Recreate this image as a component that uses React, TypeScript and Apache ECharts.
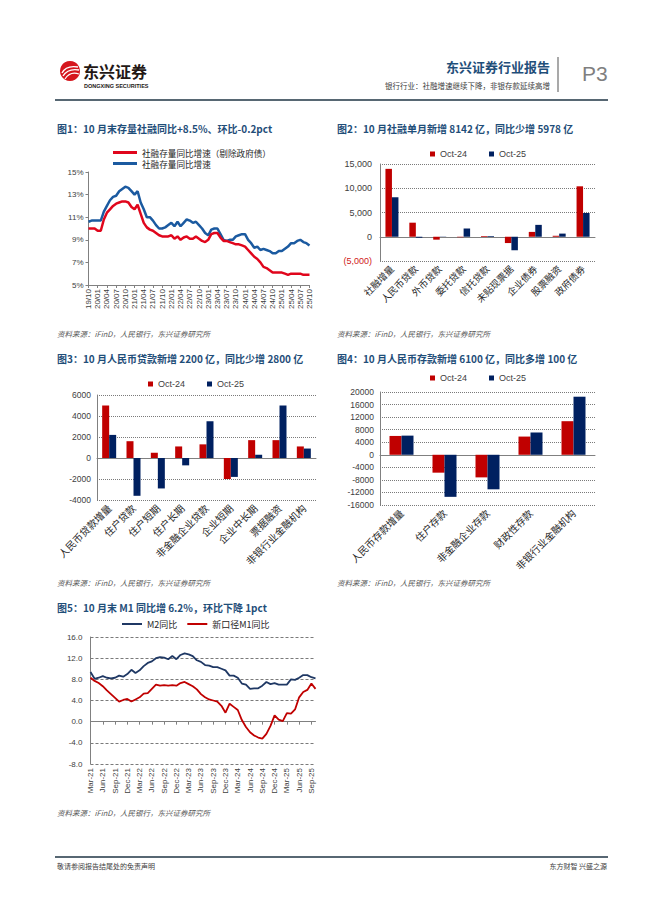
import React, { useEffect, useRef } from "react";
import * as echarts from "echarts";

const FONT = '"Liberation Sans", "Noto Sans CJK SC", sans-serif';
const CJK = '"Noto Sans CJK SC", "Liberation Sans", sans-serif';

// ---------- Chart 1 ----------
const c1Dates = [
  "19/10", "19/11", "19/12",
  "20/01", "20/02", "20/03", "20/04", "20/05", "20/06", "20/07", "20/08", "20/09", "20/10", "20/11", "20/12",
  "21/01", "21/02", "21/03", "21/04", "21/05", "21/06", "21/07", "21/08", "21/09", "21/10", "21/11", "21/12",
  "22/01", "22/02", "22/03", "22/04", "22/05", "22/06", "22/07", "22/08", "22/09", "22/10", "22/11", "22/12",
  "23/01", "23/02", "23/03", "23/04", "23/05", "23/06", "23/07", "23/08", "23/09", "23/10", "23/11", "23/12",
  "24/01", "24/02", "24/03", "24/04", "24/05", "24/06", "24/07", "24/08", "24/09", "24/10", "24/11", "24/12",
  "25/01", "25/02", "25/03", "25/04", "25/05", "25/06", "25/07", "25/08", "25/09", "25/10",
];
const c1ExGov = [
  10.0, 10.0, 10.0,
  9.8, 9.8, 10.8, 11.4, 11.7, 12.0, 12.2, 12.3, 12.4, 12.4, 12.3, 11.9,
  11.7, 12.1, 11.3, 10.5, 10.1, 9.9, 9.8, 9.6, 9.4, 9.3, 9.3, 9.3,
  9.4, 9.1, 9.3, 9.0, 9.2, 9.3, 9.1, 9.1, 9.3, 9.1, 8.9, 8.8,
  9.0, 9.5, 9.6, 9.6, 9.2, 8.9, 8.9, 8.8, 8.7, 8.6, 8.6, 8.5,
  8.4, 8.1, 7.8, 7.5, 7.3, 7.0, 6.6, 6.5, 6.3, 6.1, 6.1, 6.1,
  6.1, 6.0, 5.9, 6.0, 6.0, 6.0, 6.0, 5.9, 5.9, 5.9,
];
const c1Total = [
  10.6, 10.7, 10.7,
  10.7, 10.7, 11.5, 12.0, 12.5, 12.8, 12.9, 13.3, 13.5, 13.7, 13.6, 13.3,
  13.0, 13.3, 12.3, 11.7, 11.0, 11.0, 10.7, 10.3, 10.0, 10.0, 10.1, 10.3,
  10.5, 10.2, 10.6, 10.2, 10.5, 10.8, 10.7, 10.5, 10.6, 10.3, 10.0, 9.6,
  9.4, 9.9, 10.0, 10.0, 9.5, 9.0, 8.9, 9.0, 9.0, 9.3, 9.4, 9.5,
  9.5, 9.0, 8.7, 8.3, 8.4, 8.1, 8.2, 8.1, 8.0, 7.8, 7.8, 8.0,
  8.0, 8.2, 8.4, 8.7, 8.7, 8.9, 9.0, 8.8, 8.7, 8.5,
];
const c1Names = ["社融存量同比增速（剔除政府债）", "社融存量同比增速"];

// ---------- Chart 2 ----------
const c2Cats = ["社融增量", "人民币贷款", "外币贷款", "委托贷款", "信托贷款", "未贴现票据", "企业债券", "股票融资", "政府债券"];
const c2Oct24 = [14000, 2900, -600, -100, 150, -1300, 1000, 200, 10400];
const c2Oct25 = [8142, -200, -50, 1700, 150, -2800, 2450, 650, 4900];

// ---------- Chart 3 ----------
const c3Cats = ["人民币贷款增量", "住户贷款", "住户短期", "住户长期", "非金融企业贷款", "企业短期", "企业中长期", "票据融资", "非银行业金融机构"];
const c3Oct24 = [5000, 1600, 500, 1100, 1300, -2000, 1700, 1700, 1100];
const c3Oct25 = [2200, -3600, -2900, -700, 3500, -1800, 300, 5000, 900];

// ---------- Chart 4 ----------
const c4Cats = ["人民币存款增量", "住户存款", "非金融企业存款", "财政性存款", "非银行业金融机构"];
const c4Oct24 = [6000, -5700, -7200, 5800, 10700];
const c4Oct25 = [6100, -13400, -11000, 7100, 18500];

const barNames = ["Oct-24", "Oct-25"];

// ---------- Chart 5 ----------
const c5Months = [
  "Mar-21", "Apr-21", "May-21", "Jun-21", "Jul-21", "Aug-21", "Sep-21", "Oct-21", "Nov-21", "Dec-21",
  "Jan-22", "Feb-22", "Mar-22", "Apr-22", "May-22", "Jun-22", "Jul-22", "Aug-22", "Sep-22", "Oct-22", "Nov-22", "Dec-22",
  "Jan-23", "Feb-23", "Mar-23", "Apr-23", "May-23", "Jun-23", "Jul-23", "Aug-23", "Sep-23", "Oct-23", "Nov-23", "Dec-23",
  "Jan-24", "Feb-24", "Mar-24", "Apr-24", "May-24", "Jun-24", "Jul-24", "Aug-24", "Sep-24", "Oct-24", "Nov-24", "Dec-24",
  "Jan-25", "Feb-25", "Mar-25", "Apr-25", "May-25", "Jun-25", "Jul-25", "Aug-25", "Sep-25", "Oct-25",
];
const c5M2 = [
  9.4, 8.1, 8.3, 8.6, 8.3, 8.2, 8.3, 8.7, 8.5, 9.0,
  9.8, 9.2, 9.7, 10.5, 11.1, 11.4, 12.0, 12.2, 12.1, 11.8, 12.4, 11.8,
  12.6, 12.9, 12.7, 12.4, 11.6, 11.3, 10.7, 10.6, 10.3, 10.3, 10.0, 9.7,
  8.7, 8.7, 8.3, 7.2, 7.0, 6.2, 6.3, 6.3, 6.8, 7.5, 7.1, 7.3,
  7.0, 7.0, 7.0, 8.0, 7.9, 8.3, 8.8, 8.8, 8.4, 8.2,
];
const c5M1 = [
  8.3, 7.7, 7.3, 6.7, 5.9, 5.2, 4.5, 3.8, 4.1, 4.3,
  3.8, 4.2, 4.6, 5.3, 5.4, 6.2, 7.0, 6.8, 6.9, 6.8, 6.9, 6.8,
  7.3, 7.5, 7.1, 6.7, 6.1, 5.2, 4.6, 4.2, 4.0, 3.8, 3.0, 1.7,
  3.4, 2.8, 2.2, 0.3, -1.0, -2.0, -2.6, -3.0, -3.2, -2.3, -0.8, 1.2,
  0.4, 0.1, 1.6, 1.5, 2.3, 4.6, 5.6, 6.0, 7.2, 6.2,
];
const c5Names = ["M2同比", "新口径M1同比"];

// ---------- texts ----------
const titles = [
  "图1：10 月末存量社融同比+8.5%、环比-0.2pct",
  "图2：10 月社融单月新增 8142 亿，同比少增 5978 亿",
  "图3：10 月人民币贷款新增 2200 亿，同比少增 2800 亿",
  "图4：10 月人民币存款新增 6100 亿，同比多增 100 亿",
  "图5：10 月末 M1 同比增 6.2%，环比下降 1pct",
];
const sourceText = "资料来源：iFinD，人民银行，东兴证券研究所";

const RED = "#C00000";
const NAVY = "#002060";
const AXIS = "#808080";
const LABEL = "#404040";

function txt(x: number, y: number, text: string, s: any = {}) {
  return {
    type: "text",
    x,
    y,
    silent: true,
    style: {
      text,
      fill: LABEL,
      fontSize: 9,
      fontFamily: CJK,
      align: "left",
      verticalAlign: "middle",
      textAlign: s.align || "left",
      textVerticalAlign: "middle",
      ...s,
    },
  };
}

function line(x1: number, y1: number, x2: number, y2: number, stroke: string, lw: number) {
  return { type: "line", silent: true, shape: { x1, y1, x2, y2 }, style: { stroke, lineWidth: lw } };
}

function catLabelAxis(gridIndex: number, data: string[], fontSize: number) {
  return {
    type: "category",
    gridIndex,
    data,
    position: "bottom",
    axisLine: { show: false, onZero: false },
    axisTick: { show: false },
    axisLabel: { interval: 0, rotate: 45, fontSize, color: "#262626", fontFamily: CJK, margin: 6 },
  };
}
function zeroAxis(gridIndex: number, data: string[], ticks = false, tickInterval: any = 0, boundaryGap = true) {
  return {
    type: "category",
    gridIndex,
    data,
    position: "bottom",
    boundaryGap,
    axisLine: { show: true, onZero: true, lineStyle: { color: AXIS, width: 1 } },
    axisTick: { show: ticks, interval: tickInterval, length: 3, lineStyle: { color: AXIS } },
    axisLabel: { show: false },
    splitLine: { show: false },
  };
}
function valueAxis(gridIndex: number, min: number, max: number, interval: number, extra: any = {}) {
  return {
    type: "value",
    gridIndex,
    min,
    max,
    interval,
    axisLine: { show: true, lineStyle: { color: AXIS } },
    axisTick: { show: false },
    axisLabel: { fontSize: 8.5, color: LABEL, margin: 6, fontFamily: FONT, formatter: (v: number) => String(v) },
    splitLine: { show: true, lineStyle: { type: "dotted", color: "#7a7a7a", width: 1 } },
    ...extra,
  };
}
function barPair(xi: number, yi: number, a: number[], b: number[], w: number) {
  return [
    { name: barNames[0], type: "bar", xAxisIndex: xi, yAxisIndex: yi, data: a, barWidth: w, barGap: "0%", itemStyle: { color: RED } },
    { name: barNames[1], type: "bar", xAxisIndex: xi, yAxisIndex: yi, data: b, barWidth: w, barGap: "0%", itemStyle: { color: NAVY } },
  ];
}
function barLegend(left: number, top: number) {
  return {
    data: barNames,
    left,
    top,
    padding: 0,
    icon: "rect",
    itemWidth: 5,
    itemHeight: 5,
    itemGap: 22,
    textStyle: { fontSize: 9, color: LABEL, fontFamily: FONT, lineHeight: 10 },
  };
}

export default function App() {
  const ref = useRef<HTMLDivElement>(null);
  useEffect(() => {
    const chart = echarts.init(ref.current!, null, { renderer: "svg" });
    const fmtC2 = (v: number) => (v < 0 ? "(" + Math.abs(v).toLocaleString("en-US") + ")" : v.toLocaleString("en-US"));

    const graphic: any[] = [
      // header logo
      { type: "circle", silent: true, shape: { cx: 70, cy: 71, r: 10 }, style: { fill: "#D5171E" } },
      { type: "bezierCurve", silent: true, shape: { x1: 62, y1: 73, x2: 78, y2: 67, cpx1: 66, cpy1: 65 }, style: { stroke: "#fff", lineWidth: 1.4, fill: null } },
      { type: "bezierCurve", silent: true, shape: { x1: 63, y1: 76, x2: 79, y2: 70, cpx1: 68, cpy1: 68 }, style: { stroke: "#fff", lineWidth: 1.4, fill: null } },
      { type: "bezierCurve", silent: true, shape: { x1: 65, y1: 79, x2: 79, y2: 74, cpx1: 70, cpy1: 71 }, style: { stroke: "#fff", lineWidth: 1.2, fill: null } },
      txt(83, 71, "东兴证券", { fontSize: 16, fontWeight: "bold", fill: "#231815" }),
      txt(84, 86, "DONGXING SECURITIES", { fontSize: 5.5, fontWeight: "bold", fill: "#231815", fontFamily: FONT }),
      txt(550, 66, "东兴证券行业报告", { align: "right", textAlign: "right", fontSize: 13, fontWeight: "bold", fill: "#1F4E79" }),
      txt(550, 85, "银行行业：社融增速继续下降，非银存款延续高增", { align: "right", textAlign: "right", fontSize: 7.5, fill: "#404040" }),
      line(558, 57, 558, 92, "#8c8c8c", 1.5),
      txt(582, 73, "P3", { fontSize: 21, fill: "#7F7F7F", fontFamily: '"Liberation Sans Narrow", "Liberation Sans", sans-serif' }),
      line(55, 100, 608, 100, "#1F3545", 1.5),
      // titles
      txt(57, 128, titles[0], { fontSize: 10, fontWeight: "bold", fill: "#1F4E79" }),
      txt(337, 128, titles[1], { fontSize: 10, fontWeight: "bold", fill: "#1F4E79" }),
      txt(57, 358, titles[2], { fontSize: 10, fontWeight: "bold", fill: "#1F4E79" }),
      txt(337, 358, titles[3], { fontSize: 10, fontWeight: "bold", fill: "#1F4E79" }),
      txt(57, 607, titles[4], { fontSize: 10, fontWeight: "bold", fill: "#1F4E79" }),
      // sources
      txt(57, 333, sourceText, { fontSize: 7.5, fontStyle: "italic", fill: "#595959" }),
      txt(337, 333, sourceText, { fontSize: 7.5, fontStyle: "italic", fill: "#595959" }),
      txt(57, 582, sourceText, { fontSize: 7.5, fontStyle: "italic", fill: "#595959" }),
      txt(337, 582, sourceText, { fontSize: 7.5, fontStyle: "italic", fill: "#595959" }),
      txt(57, 812, sourceText, { fontSize: 7.5, fontStyle: "italic", fill: "#595959" }),
      // footer
      line(55, 857, 608, 857, "#1F3545", 1.5),
      txt(57, 866, "敬请参阅报告结尾处的免责声明", { fontSize: 7, fill: "#404040" }),
      txt(607, 866, "东方财智 兴盛之源", { align: "right", textAlign: "right", fontSize: 7, fill: "#404040" }),
    ];

    const option: any = {
      animation: false,
      backgroundColor: "#ffffff",
      textStyle: { fontFamily: FONT },
      grid: [
        { left: 88.5, top: 172, width: 221, height: 113, outerBoundsMode: "none" },
        { left: 380, top: 164, width: 215, height: 97, outerBoundsMode: "none" },
        { left: 97, top: 395, width: 219, height: 105, outerBoundsMode: "none" },
        { left: 380, top: 392, width: 215, height: 113, outerBoundsMode: "none" },
        { left: 90.5, top: 637, width: 225, height: 127, outerBoundsMode: "none" },
      ],
      legend: [
        {
          data: c1Names,
          orient: "vertical",
          left: 113,
          top: 147,
          padding: 0,
          icon: "rect",
          itemWidth: 24,
          itemHeight: 3,
          itemGap: 0,
          textStyle: { fontSize: 8.6, color: "#262626", fontFamily: CJK, lineHeight: 11 },
        },
        barLegend(430, 149),
        barLegend(148, 379),
        barLegend(430, 373),
        {
          data: c5Names,
          left: 122,
          top: 619,
          padding: 0,
          icon: "rect",
          itemWidth: 20,
          itemHeight: 2,
          itemGap: 10,
          textStyle: { fontSize: 9, color: "#262626", fontFamily: CJK, lineHeight: 10 },
        },
      ],
      xAxis: [
        {
          type: "category",
          gridIndex: 0,
          data: c1Dates,
          boundaryGap: false,
          axisLine: { show: true, onZero: false, lineStyle: { color: AXIS } },
          axisTick: { show: true, interval: 2, length: 3, lineStyle: { color: AXIS } },
          axisLabel: { interval: 2, rotate: 90, fontSize: 8, color: LABEL, margin: 4 },
        },
        catLabelAxis(1, c2Cats, 9.5),
        zeroAxis(1, c2Cats),
        catLabelAxis(2, c3Cats, 10),
        zeroAxis(2, c3Cats),
        catLabelAxis(3, c4Cats, 10),
        zeroAxis(3, c4Cats),
        {
          type: "category",
          gridIndex: 4,
          data: c5Months,
          boundaryGap: false,
          position: "bottom",
          axisLine: { show: false, onZero: false },
          axisTick: { show: false },
          axisLabel: { interval: 2, rotate: 90, fontSize: 8, color: LABEL, margin: 4 },
        },
        zeroAxis(4, c5Months, true, 2, false),
      ],
      yAxis: [
        valueAxis(0, 5, 15, 2, {
          axisTick: { show: true, length: 3, lineStyle: { color: AXIS } },
          axisLabel: { fontSize: 8, color: LABEL, margin: 5, formatter: "{value}%" },
          splitLine: { show: false },
        }),
        valueAxis(1, -5000, 15000, 5000, {
          axisLabel: {
            fontSize: 9,
            margin: 8,
            formatter: fmtC2,
            color: (v: any) => {
              const s = String(v);
              return s.startsWith("(") || s.startsWith("-") || Number(v) < 0 ? "#D02020" : LABEL;
            },
          },
        }),
        valueAxis(2, -4000, 6000, 2000),
        valueAxis(3, -16000, 20000, 4000),
        valueAxis(4, -8, 16, 4, {
          axisLabel: { fontSize: 8, color: LABEL, margin: 8, formatter: (v: number) => v.toFixed(1) },
          splitLine: { show: true, lineStyle: { type: [3, 2], color: "#7a7a7a", width: 1 } },
        }),
      ],
      series: [
        {
          name: c1Names[1],
          type: "line",
          xAxisIndex: 0,
          yAxisIndex: 0,
          data: c1Total,
          symbol: "none",
          lineStyle: { color: "#1B5AA0", width: 2.5 },
          itemStyle: { color: "#1B5AA0" },
        },
        {
          name: c1Names[0],
          type: "line",
          xAxisIndex: 0,
          yAxisIndex: 0,
          data: c1ExGov,
          symbol: "none",
          lineStyle: { color: "#E0061C", width: 2.5 },
          itemStyle: { color: "#E0061C" },
        },
        ...barPair(1, 1, c2Oct24, c2Oct25, 6.5),
        ...barPair(3, 2, c3Oct24, c3Oct25, 7),
        ...barPair(5, 3, c4Oct24, c4Oct25, 12),
        {
          name: c5Names[0],
          type: "line",
          xAxisIndex: 7,
          yAxisIndex: 4,
          data: c5M2,
          symbol: "none",
          lineStyle: { color: "#1F3864", width: 1.8 },
          itemStyle: { color: "#1F3864" },
        },
        {
          name: c5Names[1],
          type: "line",
          xAxisIndex: 7,
          yAxisIndex: 4,
          data: c5M1,
          symbol: "none",
          lineStyle: { color: RED, width: 1.8 },
          itemStyle: { color: RED },
        },
      ],
      graphic,
    };
    chart.setOption(option);
    return () => chart.dispose();
  }, []);
  return (
    <div
      ref={ref}
      style={{ position: "fixed", left: 0, top: 0, width: 662, height: 898, background: "#fff" }}
    />
  );
}
